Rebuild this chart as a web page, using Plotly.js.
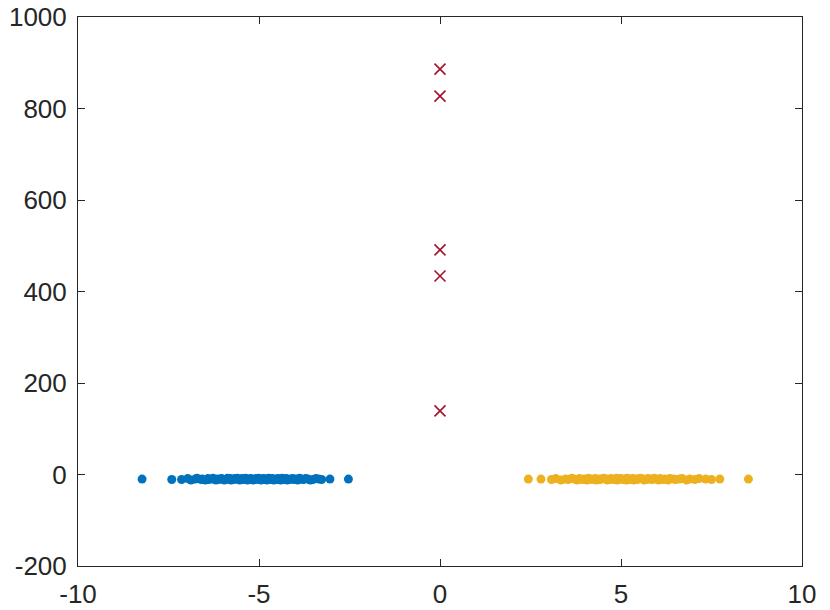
<!DOCTYPE html>
<html>
<head>
<meta charset="utf-8">
<script src="https://cdn.plot.ly/plotly-3.0.1.min.js"></script>
<style>
  html, body { margin: 0; padding: 0; background: #fff; }
  #chart { width: 830px; height: 610px; }
</style>
</head>
<body>
<div id="chart"></div>
<script>
// cluster A (blue)
const blueX = [
  -8.23, -7.41, -7.14, -6.97, -6.88, -6.76, -6.71, -6.60, -6.57, -6.48,
  -6.41, -6.39, -6.30, -6.27, -6.19, -6.14, -6.12, -6.04, -6.02, -5.96,
  -5.93, -5.87, -5.85, -5.79, -5.77, -5.71, -5.68, -5.66, -5.60, -5.58,
  -5.53, -5.51, -5.46, -5.44, -5.39, -5.37, -5.32, -5.30, -5.25, -5.23,
  -5.18, -5.16, -5.11, -5.08, -5.06, -5.01, -4.99, -4.94, -4.92, -4.87,
  -4.85, -4.80, -4.78, -4.73, -4.71, -4.66, -4.64, -4.59, -4.57, -4.51,
  -4.48, -4.46, -4.40, -4.36, -4.34, -4.28, -4.24, -4.22, -4.16, -4.12,
  -4.07, -4.03, -3.98, -3.93, -3.88, -3.83, -3.77, -3.71, -3.65, -3.58,
  -3.51, -3.43, -3.35, -3.27, -3.04, -2.53
];
const blueY = [
  -10, -11, -11, -9, -12, -10, -8, -11, -10, -12,
  -9, -11, -10, -8, -12, -10, -11, -9, -10, -12,
  -11, -8, -10, -9, -12, -11, -10, -9, -8, -11,
  -12, -10, -9, -11, -10, -8, -12, -10, -11, -9,
  -10, -12, -11, -9, -10, -8, -11, -12, -10, -9,
  -11, -10, -12, -8, -10, -11, -9, -12, -10, -11,
  -9, -10, -12, -8, -11, -10, -9, -12, -11, -10,
  -9, -11, -10, -12, -8, -10, -11, -9, -10, -12,
  -11, -9, -10, -11, -10, -10
];

// cluster B (yellow)
const yellowX = [
  2.44, 2.79, 3.08, 3.20, 3.34, 3.47, 3.54, 3.64, 3.70, 3.79,
  3.85, 3.93, 3.98, 4.06, 4.10, 4.18, 4.21, 4.29, 4.32, 4.40,
  4.43, 4.50, 4.53, 4.60, 4.62, 4.69, 4.72, 4.78, 4.81, 4.88,
  4.90, 4.97, 4.99, 5.06, 5.08, 5.15, 5.17, 5.24, 5.26, 5.33,
  5.35, 5.42, 5.45, 5.51, 5.54, 5.61, 5.64, 5.71, 5.74, 5.81,
  5.85, 5.92, 5.96, 6.04, 6.08, 6.16, 6.21, 6.30, 6.35, 6.45,
  6.51, 6.62, 6.69, 6.81, 6.90, 7.04, 7.16, 7.34, 7.50, 7.73,
  8.52
];
const yellowY = [
  -10, -10, -11, -9, -12, -10, -11, -8, -10, -12,
  -9, -11, -10, -12, -8, -10, -11, -9, -12, -10,
  -11, -9, -8, -10, -12, -11, -9, -10, -11, -8,
  -12, -10, -9, -11, -10, -12, -8, -11, -10, -9,
  -12, -10, -11, -9, -8, -10, -12, -11, -9, -10,
  -11, -8, -10, -12, -9, -11, -10, -12, -9, -10,
  -11, -10, -9, -12, -10, -11, -9, -10, -11, -10,
  -10
];

// outliers (red crosses)
const outlierX = [0, 0, 0, 0, 0];
const outlierY = [886, 827, 491, 434, 139];

const xTicks = [-10, -5, 0, 5, 10];
const xTickText = ['-10', '-5', '0', '5', '10'];
const yTicks = [-200, 0, 200, 400, 600, 800, 1000];
const yTickText = ['-200', '0', '200', '400', '600', '800', '1000'];

const AXIS = '#262626';
const FONT = 'Liberation Sans, Arial, Helvetica, sans-serif';

const data = [
  {
    type: 'scatter', mode: 'markers', x: blueX, y: blueY,
    marker: { color: '#0072BD', size: 9 },
  },
  {
    type: 'scatter', mode: 'markers', x: yellowX, y: yellowY,
    marker: { color: '#EDB120', size: 9 },
  },
  {
    type: 'scatter', mode: 'markers', x: outlierX, y: outlierY,
    marker: { symbol: 'x-thin-open', color: '#A2142F', size: 11, line: { color: '#A2142F', width: 1.6 } },
  },
];

const axisBase = {
  showline: true, linecolor: AXIS, linewidth: 1, mirror: 'ticks',
  ticks: 'inside', ticklen: 7, tickwidth: 1, tickcolor: AXIS,
  showgrid: false, zeroline: false,
  tickfont: { family: FONT, size: 26, color: AXIS },
};

const layout = {
  width: 830, height: 610,
  margin: { l: 78, r: 28, t: 17, b: 44 },
  paper_bgcolor: '#fff', plot_bgcolor: '#fff',
  showlegend: false,
  xaxis: { ...axisBase, range: [-10, 10], tickvals: xTicks, ticktext: xTickText, ticklabelstandoff: 5 },
  yaxis: { ...axisBase, range: [-200, 1000], tickvals: yTicks, ticktext: yTickText, ticklabelstandoff: 5 },
};

Plotly.newPlot('chart', data, layout, { displayModeBar: false, staticPlot: true });
</script>
</body>
</html>
